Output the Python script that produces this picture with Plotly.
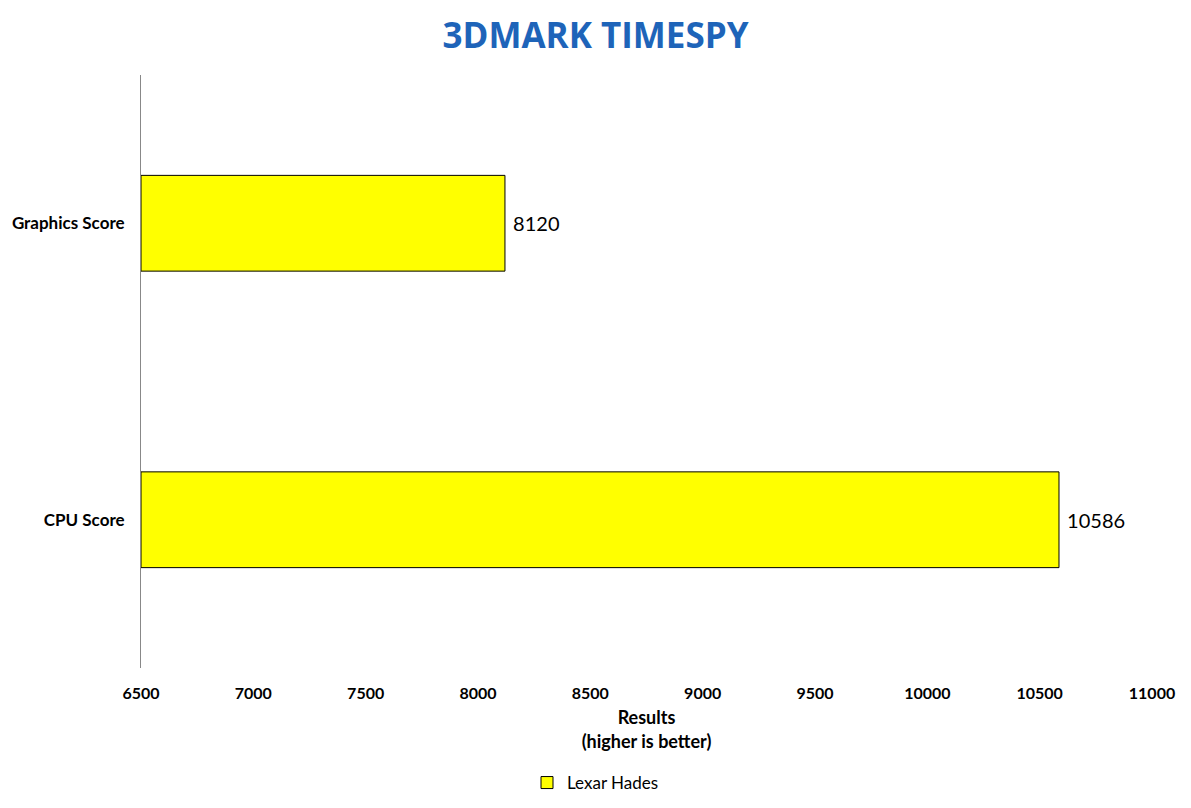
import plotly.graph_objects as go

categories = ["CPU Score", "Graphics Score"]
scores = [10586, 8120]
series_name = "Lexar Hades"
axis_start = 6500
tick_values = [6500, 7000, 7500, 8000, 8500, 9000, 9500, 10000, 10500, 11000]

FONT = "Lato, Open Sans, sans-serif"

fig = go.Figure()
fig.add_trace(go.Bar(
    y=categories,
    x=[v - axis_start for v in scores],   # bar length above the axis start
    base=axis_start,
    orientation="h",
    name=series_name,
    marker=dict(color="#FFFF00", line=dict(color="#000000", width=1)),
    width=0.323,
    text=[" " + str(v) for v in scores],
    textposition="outside",
    textfont=dict(family=FONT, size=20, color="#000000"),
    cliponaxis=False,
    showlegend=True,
))

fig.update_layout(
    width=1191,
    height=808,
    paper_bgcolor="white",
    plot_bgcolor="white",
    margin=dict(l=141, r=39, t=75, b=140, autoexpand=False),
    title=dict(
        text="<b>3DMARK TIMESPY</b>",
        x=0.5, xanchor="center",
        y=1 - 36 / 808, yanchor="middle", yref="container",
        font=dict(family="Open Sans, sans-serif", size=35, color="#1E64B9"),
    ),
    xaxis=dict(
        range=[6500, 11000],
        tickvals=tick_values,
        ticktext=[str(v) for v in tick_values],
        showgrid=False,
        zeroline=False,
        showline=False,
        ticks="",
        automargin=False,
        ticklabelstandoff=14,
        tickfont=dict(family=FONT, size=16, color="#000000", weight="bold"),
        title=dict(
            text="<b>Results<br>(higher is better)</b>",
            font=dict(family=FONT, size=18, color="#000000"),
            standoff=10,
        ),
    ),
    yaxis=dict(
        categoryorder="array",
        categoryarray=categories,
        range=[-0.5, 1.5],
        showgrid=False,
        zeroline=False,
        showline=True,
        linecolor="#888888",
        linewidth=1,
        ticks="",
        automargin=False,
        ticklabelstandoff=12,
        tickfont=dict(family=FONT, size=17, color="#000000", weight="bold"),
    ),
    legend=dict(
        orientation="h",
        x=0.5, xanchor="center", xref="container",
        y=1 - 783 / 808, yanchor="middle", yref="container",
        itemwidth=30,
        font=dict(family=FONT, size=17, color="#000000"),
    ),
)

fig.write_html("out.html")
